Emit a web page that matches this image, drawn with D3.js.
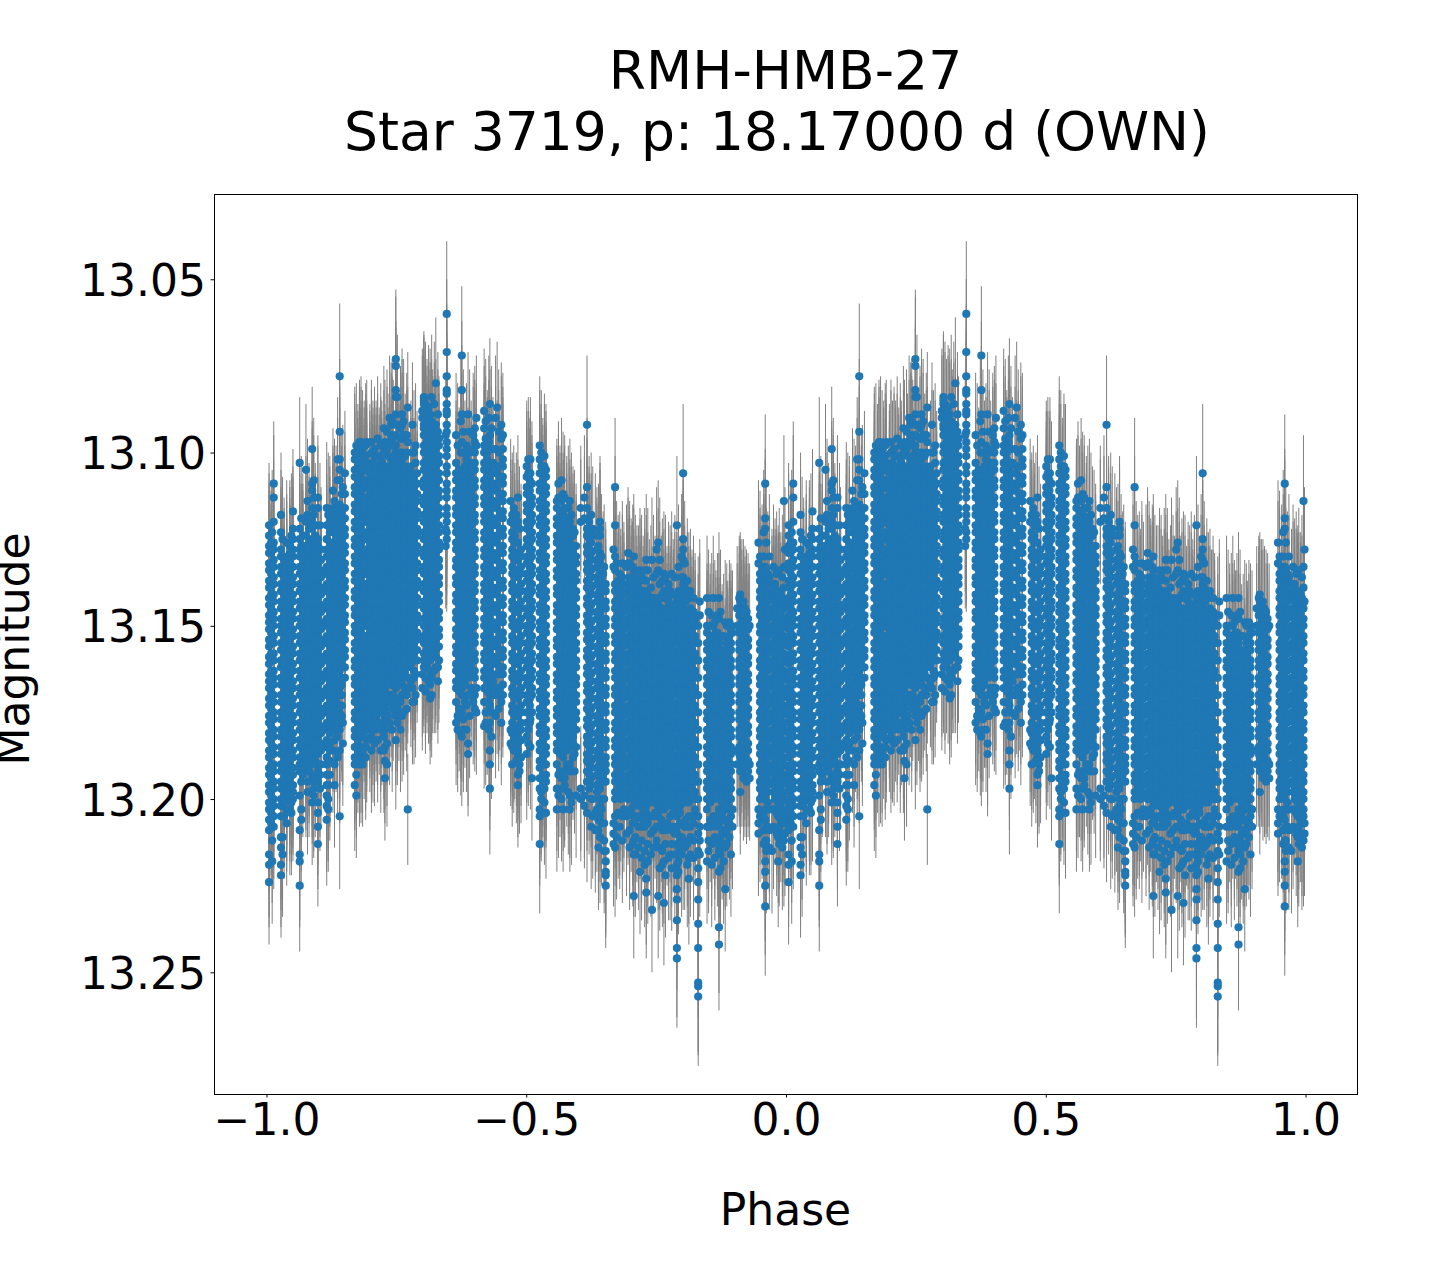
<!DOCTYPE html>
<html>
<head>
<meta charset="utf-8">
<script src="https://cdn.jsdelivr.net/npm/d3@7"></script>
<style>
  html, body { margin: 0; padding: 0; background: #fff; }
  svg { display: block; }
  text { font-family: "DejaVu Sans", sans-serif; fill: #000; white-space: pre; }
</style>
</head>
<body>
<div id="canvas"></div>
<script>
var titleLines = ["RMH-HMB-27", "Star 3719, p: 18.17000 d (OWN) "];
var xLabel = "Phase";
var yLabel = "Magnitude";
var xTicks = [-1.0, -0.5, 0.0, 0.5, 1.0];
var yTicks = [13.05, 13.10, 13.15, 13.20, 13.25];
var baseMag = 13;

var phases = [
  .005,.014,.028,.039,.051,.064,.076,.088,.099,.116,.128,.141,.151,.170,.182,.193,.205,.217,.228,.240,
  .249,.261,.272,.284,.303,.315,.326,.347,.365,.376,.388,.401,.419,.430,.444,.455,.473,.484,.501,.511,
  .526,.538,.559,.571,.584,.596,.617,.625,.642,.653,.671,.682,.696,.707,.719,.731,.742,.754,.765,.777,
  .790,.802,.813,.825,.831,.848,.860,.871,.883,.894,.910,.921,.950,.960,.973,.985,.996
];

// typical error of each run, millimag
var errs = [
  18,18,18,18,18,19,19,18,18,19,18,21,18,19,19,18,18,18,18,18,
  20,19,16,18,19,19,19,21,18,20,18,18,18,19,19,18,18,18,19,18,
  20,19,18,18,18,18,20,18,19,18,20,18,19,18,18,19,18,18,18,19,
  20,20,19,19,20,18,18,19,18,18,18,18,19,20,18,19,19
];

// magnitudes of each run, millimag above baseMag
var mags = [
  [121,124,127,129,132,134,137,139,142,144,147,149,151,154,156,159,161,164,166,168,171,173,176,178,181,183,186,188,191,193,196,198,201,203,206,209,216,219,224],
  [109,113,120,126,128,131,133,136,138,141,143,146,148,150,153,155,158,160,163,165,167,170,172,175,177,180,182,185,187,190,192,195,197,200,202,205,208],
  [118,123,128,130,133,135,138,140,143,145,148,150,152,155,157,160,162,165,167,170,172,175,177,180,182,185,187,190,192,195,197,200,202,205,211,214,219,222],
  [126,130,132,135,137,140,142,145,147,150,153,155,157,160,162,165,168,170,173,175,178,180,183,185,188,190,193,195,198,200,203,207],
  [117,122,125,128,130,133,136,138,141,143,146,148,151,153,156,158,161,163,166,168,171,173,176,178,181,183,186,188,191,193,196,198,200],
  [103,122,125,128,130,133,135,138,140,143,145,148,150,153,155,158,160,163,165,168,170,173,175,178,180,183,185,188,190,192,199,209,216,218,225],
  [105,120,124,127,129,132,134,137,139,142,145,147,150,152,155,157,160,162,165,167,170,172,175,177,180,182,185,187,190,192],
  [99,109,111,116,120,122,125,127,130,132,135,137,140,142,145,148,150,152,155,157,160,163,165,167,170,173,175,177,180,183,185,187,190,193,195,201],
  [113,116,125,127,130,132,135,137,140,142,145,147,150,152,155,157,160,162,165,167,170,172,175,177,180,182,185,187,190,192,195,201,204,208,213],
  [116,121,125,128,130,133,135,138,140,143,145,148,150,153,155,158,160,163,165,168,170,173,175,178,180,183,185,188,190,193,196,199,202,206],
  [111,116,118,121,123,126,128,131,133,136,138,141,143,146,148,151,153,156,158,161,163,166,168,171,173,176,178,180,186],
  [78,94,102,105,108,115,118,120,123,125,128,130,133,135,138,140,143,145,148,150,153,155,158,160,163,165,168,170,173,175,178,180,186,205],
  [106,112,116,119,122,124,127,129,132,134,137,139,142,144,147,149,152,154,157,159,162,165],
  [100,102,105,107,110,112,115,117,120,122,125,127,130,132,135,137,140,142,145,147,150,152,155,157,160,162,165,167,170,172,175,177,180,182,185,188,190,196],
  [97,100,104,106,109,111,114,116,119,121,124,126,129,131,134,136,139,141,144,146,149,151,154,156,159,161,164,166,169,171,174,176,179,181,185,188],
  [97,103,105,108,110,113,115,118,120,123,125,128,130,133,135,138,140,143,145,148,150,153,155,158,160,163,165,168,170,173,175,178,180,183],
  [103,105,107,110,112,115,118,120,122,125,127,130,132,135,137,140,142,145,147,150,152,155,157,160,162,165,167,170,172,175,178,183],
  [105,107,110,112,114,117,119,122,124,127,129,132,134,137,139,142,144,147,149,152,154,157,159,162,164,167,169,172,175],
  [97,104,106,109,111,114,116,119,121,124,126,129,131,134,136,139,141,144,146,149,151,154,156,159,161,164,166,169,171,174,176,180,185,189,194],
  [92,95,102,104,107,109,112,114,117,119,122,124,127,129,132,134,137,139,142,144,147,149,152,154,157,159,162,164,167,170],
  [73,75,82,84,89,92,95,98,100,103,105,108,110,113,115,118,120,123,125,128,130,133,135,138,140,143,145,148,150,153,155,158,160,163,165,168,172,176,183],
  [89,92,96,100,102,105,107,110,112,115,117,120,122,125,127,130,132,135,137,140,142,145,147,150,152,155,157,160,162,165,167,170,176],
  [87,97,105,107,110,112,115,117,120,122,125,127,130,132,135,137,140,142,145,147,150,152,155,157,160,162,165,168,203],
  [100,108,110,113,115,118,120,123,125,128,130,133,135,138,140,143,145,148,150,153,155,158,160,163,165,172],
  [84,85,86,89,92,93,95,98,100,103,105,108,110,113,115,118,120,123,125,128,130,133,135,138,140,143,145,148,150,153,155,158,160,162],
  [89,93,95,98,100,103,105,108,110,113,115,118,120,123,125,128,130,133,135,138,140,143,145,148,150,153,155,158,160,163,165,167,171],
  [80,92,97,99,102,104,107,109,112,114,117,119,122,124,127,129,132,134,137,139,142,144,147,149,152,154,157,159,162],
  [60,71,78,82,83,86,88,89,92,94,97,99,101,104,106,109,111,113,116,118,120,123,125],
  [95,103,106,108,111,113,116,118,121,123,126,128,131,133,136,138,141,143,146,148,151,153,156,158,161,163,166,168,172,178],
  [72,82,89,97,106,108,110,113,115,118,120,123,125,128,130,133,135,138,140,143,145,148,150,153,155,158,160,163,165,168,170,175,182],
  [89,105,107,110,112,115,117,120,122,125,127,130,132,135,137,140,142,145,147,150,152,155,157,160,162,165,170,184,187],
  [93,97,100,103,105,108,110,113,115,118,120,123,125,128,130,133,135,138,140,143,145,148,150,153,155,158,160,163,165,170,174],
  [88,93,98,100,103,105,108,110,113,115,118,120,123,125,128,130,133,135,138,140,143,145,148,150,153,155,158,160,163,165,168,172,179],
  [86,95,103,105,108,110,113,115,118,120,123,125,128,130,133,135,138,140,143,145,148,150,153,155,158,160,163,165,168,170,173,178,186,190,197],
  [87,104,106,109,111,114,116,119,121,124,126,129,131,134,136,139,141,144,146,149,151,154,156,159,161,164,168],
  [95,99,102,104,107,109,112,114,117,119,122,124,127,129,132,134,137,139,142,144,147,149,152,154,157,159,162,164,167,170],
  [118,120,123,125,128,130,133,135,138,140,143,145,148,150,153,155,158,160,163,165,168,170,173,175,178,181,185,190],
  [113,120,126,129,131,134,136,139,141,144,146,149,151,154,156,159,161,164,166,169,171,174,176,179,181,184,186,188,193,196],
  [104,107,110,112,115,117,120,122,125,127,130,132,135,137,140,142,145,147,150,152,155,157,160,162,165,167,170,172,175,178,182,187],
  [109,113,115,118,120,123,125,128,130,133,135,138,140,143,145,148,150,153,155,158,160,163,165,168,170,175,194],
  [98,102,106,109,111,114,116,119,121,124,126,129,131,134,136,139,141,144,146,149,151,154,156,159,161,164,166,169,171,174,176,179,181,184,186,189,191,194,197,203,205,213],
  [105,107,110,112,115,117,120,122,125,127,130,132,135,137,140,142,145,147,150,152,155,157,160,162,165,167,170,172,175,177,180,182,185,187,190,193,195,204],
  [114,116,119,121,124,126,129,131,134,136,139,141,144,146,149,151,154,156,159,161,164,166,169,171,174,176,179,181,184,186,190,197,203],
  [112,118,120,123,125,128,130,133,135,138,140,143,145,148,150,153,155,158,160,163,165,168,170,173,175,178,180,183,185,188,192,197,203],
  [114,120,122,125,127,130,132,135,137,140,142,145,147,150,152,155,157,160,162,165,167,170,172,175,177,180,182,185,190,199,203],
  [127,130,132,135,137,140,142,145,147,150,152,155,157,160,162,165,167,170,172,175,177,180,185,199],
  [92,110,116,122,124,127,129,132,134,137,139,142,144,147,149,152,154,157,159,162,164,167,169,172,174,177,179,182,184,187,189,192,195,204],
  [118,124,126,129,131,134,136,139,141,144,146,149,151,154,156,159,161,164,166,169,171,174,176,179,181,184,186,189,191,194,196,200,208],
  [120,122,124,129,132,135,137,140,142,145,147,150,152,155,157,160,162,165,167,170,172,175,177,180,182,185,187,190,192,195,197,200,202,205,211],
  [138,140,143,145,148,150,153,155,158,160,163,165,168,170,173,175,178,180,183,185,188,190,192,195,215,218,221,222,225],
  [110,121,130,134,138,140,143,145,148,150,153,155,158,160,163,165,168,170,173,175,178,180,183,185,188,190,193,195,198,200,205,214],
  [140,142,145,147,150,152,155,157,160,162,165,167,170,172,175,177,180,182,185,187,190,192,195,197,200],
  [129,132,138,140,143,145,148,150,153,155,158,160,163,165,168,170,173,175,178,180,183,185,188,190,193,195,198,200],
  [130,134,140,142,145,147,150,152,155,157,160,162,165,167,170,172,175,177,180,182,185,187,190,192,195,197,200,202,205,212,216,228],
  [134,137,142,144,147,149,152,154,157,159,162,164,167,169,172,174,177,179,182,184,187,189,192,194,197,199,202,205,221],
  [131,137,142,144,147,149,152,154,157,159,162,164,167,169,172,174,177,179,182,184,187,189,192,194,197,199,202,204,207,223,227],
  [131,145,147,150,152,155,157,160,162,165,167,170,172,175,177,180,182,185,187,190,192,195,197,200,232],
  [126,134,142,144,147,149,152,154,157,159,162,164,167,169,172,174,177,179,182,184,187,189,192,194,197,199,202,205,214,228],
  [135,140,146,148,151,153,156,158,161,163,166,168,171,173,176,178,181,183,186,188,191,193,196,198,201,203,208,218,230],
  [140,146,148,151,153,156,158,161,163,166,168,171,173,176,178,181,183,186,188,191,193,196,198,201,205,216],
  [121,143,145,148,150,153,155,158,160,163,165,168,170,173,175,178,180,183,185,188,190,193,195,198,200,203,205,208,210,213,216,219,222,226,229,235,243,246],
  [106,125,128,131,136,138,140,143,145,148,150,153,155,158,160,163,165,168,170,173,175,178,180,183,185,188,190,193,195,198,200,212],
  [142,146,148,151,153,156,158,161,163,166,168,171,173,176,178,181,183,186,188,191,193,196,198,201,205,217,223],
  [148,150,153,155,158,160,163,165,168,170,173,175,178,180,183,185,188,190,193,195,198,200,203,205],
  [150,155,160,165,170,175,180,185,190,195,200,205,210,215,220,224,229,236,243,253,254,257],
  [142,150,152,155,157,160,162,165,167,170,172,175,177,180,182,185,187,190,192,195,197,200,203,208,218],
  [142,150,153,155,158,160,163,165,168,170,173,175,178,180,183,185,188,190,193,195,198,200,205],
  [142,148,155,157,160,162,165,167,170,172,175,177,180,182,185,187,190,192,195,197,200,203,207,212,215,221,237,242],
  [149,160,162,165,167,170,172,175,177,180,182,185,187,190,192,195,197,200,203,206,210,214,226],
  [150,152,155,157,160,162,165,167,170,172,175,177,180,182,185,187,190,192,195,197,200,203,205,216],
  [142,145,147,150,152,155,157,160,162,165,167,170,172,175,177,180,182,185,187,190],
  [145,148,150,153,155,158,160,163,165,168,170,173,175,178,180,183,185,188,190,193],
  [130,135,137,140,142,145,147,150,152,155,157,160,162,165,167,170,172,175,177,180,182,185,187,190,192,195,197,200,205],
  [109,119,122,133,135,137,140,142,145,147,150,152,155,157,160,162,165,167,170,172,175,177,180,182,185,187,190,192,195,197,200,203,206,212,218,221,225,231],
  [140,142,145,147,150,152,155,157,160,162,165,167,170,172,175,177,180,182,185,187,190,192,195,215],
  [143,140,142,145,147,150,152,155,157,160,162,165,167,170,172,175,177,180,182,185,187,190,192,195,198,201,205,211,218],
  [114,133,139,143,145,148,150,153,155,158,160,163,165,168,170,173,175,178,180,183,185,188,190,193,195,198,200,203,205,212]
];

// runs lying between the ones above, where the plot is solid blue
var phases2 = [
  .009,.034,.045,.070,.082,.094,.105,.122,.134,.145,.176,.188,.199,.211,.222,.234,.244,.255,.267,.278,
  .290,.309,.320,.332,.371,.382,.394,.425,.436,.449,.478,.490,.507,.532,.565,.578,.590,.621,.636,.648,
  .677,.688,.702,.713,.725,.737,.748,.760,.771,.783,.796,.807,.819,.854,.865,.877,.888,.915,.927,.954,
  .965,.979,.990
];

var errs2 = [
  18,18,19,18,19,18,18,19,18,19,18,18,18,19,18,18,19,18,18,19,
  18,19,18,18,18,19,18,18,19,18,18,19,18,18,19,18,18,19,18,18,
  19,18,18,19,18,18,19,18,18,19,18,18,19,18,18,19,18,18,19,18,
  18,19,18
];

var mags2 = [
  [126,129,133,135,139,141,145,146,150,152,155,158,160,163,165,169,170,174,177,179,182,184,187,190,192,194,197,199,202,204,207],
  [131,134,136,139,141,144,147,149,151,154,156,159,161,164,166,169,171,174,176,179,181,184,186,189,191,194,196,199,201,205],
  [127,129,132,134,137,139,142,144,147,149,152,154,157,159,162,164,167,169,172,174,177,179,182,184,187,189,192,194,197,199,203],
  [124,127,129,131,134,136,139,141,144,146,149,151,154,156,159,161,164,166,169,171,174,176,179,181,184,186,189,193],
  [122,126,128,131,133,136,138,141,143,146,149,151,153,156,158,161,164,166,168,171,173,176,178,181,183,186,188,192],
  [121,124,126,129,131,134,136,139,141,144,146,149,151,154,156,159,161,164,166,169,171,174,176,179,181,184,186,189,193],
  [128,131,134,136,139,141,144,146,149,151,154,156,159,161,164,166,169,171,174,176,179,181,184,186,190],
  [120,123,126,129,131,134,136,139,141,144,146,149,151,154,156,159,161,164,166,169,171,174,176,179,181,184,186,189,193],
  [116,119,122,124,127,129,132,134,137,139,142,144,147,149,152,154,157,159,162,164,167,169,172,174,177,180],
  [112,117,120,122,125,127,130,132,135,137,140,142,145,147,150,152,155,157,160,162,165,167,170,173,176],
  [104,106,108,111,113,116,118,121,123,126,128,131,133,136,138,141,143,146,148,151,153,156,158,161,163,166,168,171,173,176,178,181,183,186],
  [103,105,108,110,113,115,117,120,123,125,128,130,132,135,138,140,142,145,147,150,153,155,157,160,162,165,167,170,172,175,177,182],
  [104,106,109,111,114,116,119,121,124,126,129,131,134,136,139,141,144,146,149,151,154,156,159,161,164,166,169,171,174,176,180],
  [104,106,108,111,113,116,119,121,123,126,128,131,133,136,138,141,143,146,148,151,153,156,158,161,163,166,168,171,173,176],
  [103,106,108,111,113,116,118,121,123,126,128,131,133,136,138,141,143,146,148,151,153,156,158,161,163,166,168,171,173,178],
  [101,105,107,110,112,115,117,120,122,125,127,130,132,135,137,140,142,145,147,150,152,155,157,160,162,165,167,170,172,176],
  [98,101,103,106,108,111,113,116,118,121,123,126,128,131,133,136,138,141,143,146,148,151,153,156,158,161,163,166,170],
  [100,102,104,107,109,112,114,117,119,122,124,127,129,132,134,137,139,142,144,147,149,152,154,157,159,162,164,167,171],
  [101,104,106,109,111,114,116,119,121,124,126,129,131,134,136,139,141,144,146,149,151,154,156,159,161,164,168],
  [104,106,109,111,114,116,119,121,124,126,129,131,134,136,139,141,144,146,149,151,154,156,159,161,166],
  [106,109,112,114,117,119,122,124,127,129,132,134,137,139,142,144,147,149,152,154,157,160],
  [92,94,97,99,102,104,107,109,112,114,117,119,122,124,127,129,132,134,137,139,142,144,147,149,152,154,157,159,162],
  [94,96,99,101,104,106,109,111,114,116,119,121,124,126,129,131,134,136,139,141,144,146,149,151,154,156,159,163],
  [96,98,101,103,106,108,111,113,116,118,121,123,126,128,131,133,136,138,141,143,146,148,151,153,156,160],
  [105,107,109,112,114,117,119,122,124,127,129,132,134,137,139,142,144,147,149,152,154,157,159,162,164,167,169,174],
  [104,107,109,112,114,117,119,122,124,127,129,132,134,137,139,142,144,147,149,152,154,157,159,162,164,167,172],
  [103,106,109,111,114,116,119,121,124,126,129,131,134,136,139,141,144,146,149,151,154,156,159,161,164,168],
  [100,102,104,107,109,112,114,117,119,122,124,127,129,132,134,137,139,142,144,147,149,152,154,157,159,162,164,167,169,175],
  [103,106,109,111,114,116,119,121,124,126,129,131,134,136,139,141,144,146,149,151,154,156,159,161,164,166,170],
  [104,107,109,112,114,117,119,122,124,127,129,132,134,137,139,142,144,147,149,152,154,157,159,162,164,168],
  [121,124,126,129,131,134,136,139,141,144,146,149,151,154,156,159,161,164,166,169,171,174,176,179,182],
  [128,130,133,135,138,140,143,145,148,150,153,155,158,160,163,165,168,170,173,175,178,180,183,188],
  [108,111,113,116,118,121,123,126,128,131,133,136,138,141,143,146,148,151,153,156,158,161,163,166,168,171,173,178],
  [108,110,113,115,118,120,123,125,128,130,133,135,138,140,143,145,148,150,153,155,158,160,163,165,168,170,173,175,178,180,183,185,188,190,193,196],
  [117,119,122,124,127,129,132,134,137,139,142,144,147,149,152,154,157,159,162,164,167,169,172,174,177,179,182,184,187,192],
  [119,121,124,126,129,131,134,136,139,141,144,146,149,151,154,156,159,161,164,166,169,171,174,176,179,181,184,186,190],
  [122,124,127,129,132,134,137,139,142,144,147,149,152,154,157,159,162,164,167,169,172,174,177,179,182,184,188],
  [120,123,125,128,130,133,135,138,140,143,145,148,150,153,155,158,160,163,165,168,170,173,175,178,180,183,185,188,190,193,197],
  [128,131,133,136,138,141,143,146,148,151,153,156,158,161,163,166,168,171,173,176,178,181,183,186,188,191,193,196,198,203],
  [135,138,140,143,145,148,150,153,155,158,160,163,165,168,170,173,175,178,180,183,185,188,190,193,195,200],
  [137,139,142,144,147,149,152,154,157,159,162,164,167,169,172,174,177,179,182,184,187,189,192,194,197,199,204],
  [138,141,144,146,149,151,154,156,159,161,164,166,169,171,174,176,179,181,184,186,189,191,194,196,199,203],
  [137,139,142,144,146,149,151,154,156,159,161,164,166,169,171,174,176,179,181,184,186,189,191,194,196,199,203],
  [140,143,146,148,151,153,156,158,161,163,166,168,171,173,176,178,181,183,186,188,191,193,196,198,201,205],
  [142,145,148,150,153,155,158,160,163,165,168,170,173,175,178,180,183,185,188,190,193,195,198,200,203,206],
  [143,146,149,151,154,156,159,161,164,166,169,171,174,176,179,181,184,186,189,191,194,196,199,201,205],
  [143,146,149,151,154,156,159,161,164,166,169,171,174,176,179,181,184,186,189,191,194,196,199,201,204],
  [142,145,148,150,153,155,158,160,163,165,168,170,173,175,178,180,183,185,188,190,193,195,198,200,203,206],
  [145,147,150,152,155,157,160,162,165,167,170,172,175,177,180,182,185,187,190,192,195,197,200,202,207],
  [144,147,149,152,154,157,159,162,164,167,169,172,174,177,179,182,184,187,189,192,194,197,199,202,204,208],
  [142,144,147,149,152,154,157,159,162,164,167,169,172,174,177,179,182,184,187,189,192,194,197,199,202,204,207,212],
  [143,146,149,151,154,156,159,161,164,166,169,171,174,176,179,181,184,186,189,191,194,196,199,201,206],
  [147,149,152,154,157,159,162,164,167,169,172,174,177,179,182,184,187,189,192,194,197,199,205],
  [150,153,156,158,161,163,166,168,171,173,176,178,181,183,186,188,191,193,196,198,201,206],
  [152,154,157,159,162,164,167,169,172,174,177,179,182,184,187,189,192,194,197,199,205],
  [157,159,161,164,166,169,171,174,176,179,181,184,186,189,191,194,196,199,201,204,206,210],
  [155,157,159,162,164,167,169,172,174,177,179,182,184,187,189,192,194,197,199,202,207],
  [143,146,149,151,154,156,159,161,164,166,169,171,174,176,179,181,184,186,190],
  [148,151,154,156,159,161,164,166,169,171,174,176,179,181,184,186,189,192],
  [133,136,139,141,144,146,149,151,154,156,159,161,164,166,169,171,174,176,179,181,184,186,189,191,194,196,199,205],
  [135,138,141,143,146,148,151,153,156,158,161,163,166,168,171,173,176,178,181,183,186,188,191,193,196,198,201,203,208],
  [138,141,143,146,148,151,153,156,158,161,163,166,168,171,173,176,178,181,183,186,188,191,193,196,200],
  [141,144,146,149,151,154,156,159,161,164,166,169,171,174,176,179,181,184,186,189,191,194,196,199,201,206]
];

// loose points along the upper and lower edge of the solid band
var phases3 = [
  .011,.031,.048,.067,.079,.091,.103,.119,.131,.137,.147,.173,.179,.185,.191,.202,.208,.214,.220,.226,
  .232,.237,.242,.252,.258,.264,.270,.281,.287,.300,.306,.312,.318,.323,.330,.345,.368,.374,.379,.385,
  .391,.398,.404,.422,.428,.433,.441,.447,.452,.470,.476,.481,.487,.504,.508,.529,.535,.562,.568,.574,
  .581,.587,.593,.605,.612,.628,.633,.639,.645,.650,.668,.674,.680,.685,.693,.699,.705,.710,.716,.722,
  .728,.734,.740,.745,.751,.757,.762,.768,.774,.780,.786,.793,.799,.805,.810,.816,.822,.834,.851,.857,
  .863,.868,.874,.880,.886,.891,.897,.906,.912,.918,.924,.930,.947,.957,.962,.968,.976,.982,.987,.993,.998
];

var edgeErr = 18;

var mags3 = [
  [123,128,205,212,218],[125,211,216],[124,201,204],[119,127,195,203,206],[114,118,195,198],
  [108,113,118,197,199],[121,193,197],[118,196,200,203],[114,183,190,196],[102,108,182,188],
  [110,178,184],[98,188,193,199],[97,99,102,190],[100,186,190],[98,101,185,188],
  [97,100,182,186],[99,101,180,184],[96,101,178,183],[98,102,180,186],[93,100,182,186],
  [94,99,178,184,190],[90,97,172,178],[91,96,174,180],[84,92,174,178],[93,96,172,176,180],
  [91,95,170,175],[95,100,170,174],[92,100,168,172],[98,103,164,170],[88,90,164,168],
  [86,89,165,169],[87,90,166],[84,91,165,170],[86,92,163],[89,94,162,166],
  [95,122,127],[98,176,180],[91,100,176,181],[94,100,177,180],[98,102,173,180],
  [94,100,170,176],[95,99,168,172],[90,98,168,175],[91,96,175,178],[90,97,172,180],
  [93,99,175,182],[90,99,170,176],[94,100,170,174],[92,96,172,178],[114,120,180,184],
  [116,183,186],[118,184,189],[122,190,192],[102,106,180,184],[102,106,177,185],
  [100,104,198,200],[101,104,197,201],[109,113,193,199],[108,114,194,200],[113,116,194,196],
  [116,192,198],[118,192,201],[123,187,192],[116,120,197,200],[113,119,199,202],
  [122,200,205],[124,204,209],[127,132,206,209,214],[130,136,203,207],[133,200,207,212,215],
  [128,133,207,210,213],[132,208,211],[135,204,208],[132,136,205,212],[133,205,210],
  [132,136,204,209,214],[133,138,207,213],[136,206,211,216],[139,208,214],[136,140,208,212,217],
  [134,140,208,215,219],[134,141,207,213,218],[139,205,210,216],[136,142,205,209,214],[128,135,208,212],
  [131,138,208,214,220],[137,141,209,215,219],[136,142,209,213,222],[138,143,208,217],[135,141,209,213,220],
  [136,141,210,216],[133,140,214,218,221],[130,136,211,216],[132,139,208,214],[137,141,208,213,219],
  [140,145,208,211,216],[142,146,207,212,217],[143,147,208,212,216],[146,208,212,215],[147,208,213,219],
  [149,207,211,217],[147,152,208,213],[146,153,212,216,220],[153,209,213,218],[150,155,209,213],
  [149,153,207,211],[152,203,208],[145,150,186,190],[141,143,188,192,198],[143,146,190,194],
  [146,150,192,195],[150,190,194],[126,132,203,207,210],[123,130,205,209,213],[126,134,208,212,215],
  [130,136,203,209,214],[133,138,198,203,208],[135,140,198,204,210],[134,141,203,208,213],[136,142,206,210,214],
  [128,143,207,210]
];

var width = 1440, height = 1280;
var margin = { top: 194, right: 83, bottom: 186, left: 214 };

// every run shows up twice: at its phase and one cycle earlier
var points = [];
function addRuns(runPhases, runErr, runMags) {
  [0, -1].forEach(function(shift) {
    runPhases.forEach(function(p, i) {
      runMags[i].forEach(function(m) {
        points.push({ phase: p + shift, mag: baseMag + m / 1000, err: runErr(i) / 1000 });
      });
    });
  });
}
addRuns(phases, function(i) { return errs[i]; }, mags);
addRuns(phases2, function(i) { return errs2[i]; }, mags2);
addRuns(phases3, function() { return edgeErr; }, mags3);

var x = d3.scaleLinear().domain([-1.1, 1.1]).range([margin.left + 0.5, width - margin.right + 0.5]);
var y = d3.scaleLinear().domain([13.02553, 13.28527]).range([margin.top + 0.5, height - margin.bottom + 0.5]);

var svg = d3.select("#canvas").append("svg")
    .attr("width", width)
    .attr("height", height);

// error bars under the markers
svg.append("g").selectAll("line")
    .data(points)
  .enter().append("line")
    .attr("x1", function(d) { return x(d.phase); })
    .attr("x2", function(d) { return x(d.phase); })
    .attr("y1", function(d) { return y(d.mag - d.err); })
    .attr("y2", function(d) { return y(d.mag + d.err); })
    .attr("stroke", "#808080")
    .attr("stroke-width", 1);

svg.append("g").selectAll("circle")
    .data(points)
  .enter().append("circle")
    .attr("cx", function(d) { return x(d.phase); })
    .attr("cy", function(d) { return y(d.mag); })
    .attr("r", 4.1)
    .attr("fill", "#1f77b4");

// frame
svg.append("rect")
    .attr("x", margin.left + 0.5)
    .attr("y", margin.top + 0.5)
    .attr("width", width - margin.left - margin.right)
    .attr("height", height - margin.top - margin.bottom)
    .attr("fill", "none")
    .attr("stroke", "#000")
    .attr("stroke-width", 1);

var xAxis = svg.append("g")
    .attr("transform", "translate(0," + (height - margin.bottom) + ")")
    .call(d3.axisBottom(x).tickValues(xTicks).tickSize(3.5).tickPadding(6.3)
      .tickFormat(function(d) { return d3.format(".1f")(d).replace("-", "\u2212"); }));

var yAxis = svg.append("g")
    .attr("transform", "translate(" + margin.left + ",0)")
    .call(d3.axisLeft(y).tickValues(yTicks).tickSize(3.5).tickPadding(4.5)
      .tickFormat(d3.format(".2f")));

[xAxis, yAxis].forEach(function(a) {
  a.select(".domain").remove();
  a.selectAll("line").attr("stroke", "#000");
  a.selectAll("text").style("font-family", '"DejaVu Sans", sans-serif').style("font-size", "44px");
});
yAxis.selectAll("text").attr("dy", "0.365em");

svg.append("text")
    .attr("x", 785.5)
    .attr("y", 1225)
    .attr("text-anchor", "middle")
    .style("font-size", "44px")
    .text(xLabel);

svg.append("text")
    .attr("transform", "translate(29.3,649) rotate(-90)")
    .attr("text-anchor", "middle")
    .style("font-size", "44px")
    .text(yLabel);

titleLines.forEach(function(t, i) {
  svg.append("text")
      .attr("x", 785.5)
      .attr("y", 88.5 + i * 61)
      .attr("text-anchor", "middle")
      .style("font-size", "53.5px")
      .text(t);
});
</script>
</body>
</html>
